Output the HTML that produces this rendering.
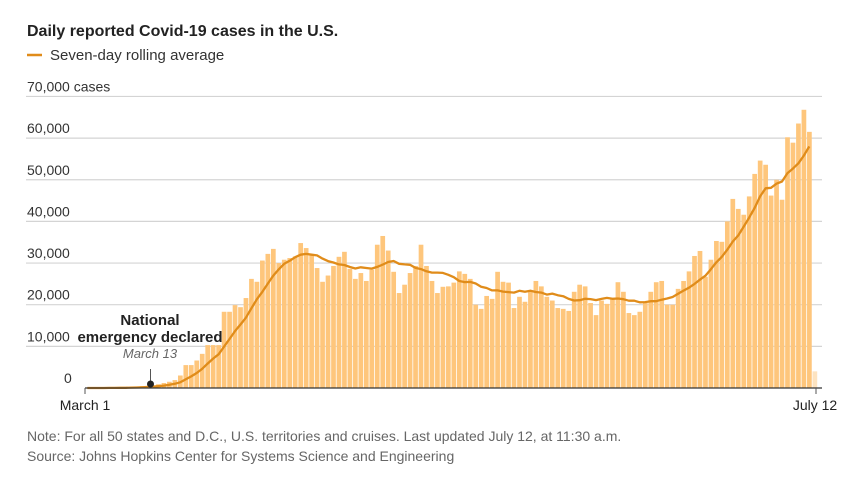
<!DOCTYPE html>
<html><head><meta charset="utf-8"><style>
body{margin:0;background:#fff;width:865px;height:482px;overflow:hidden}
svg{display:block;font-family:"Liberation Sans",sans-serif}
</style></head><body>
<svg id="s" width="865" height="482" xmlns="http://www.w3.org/2000/svg">
<text x="27" y="36" font-size="16" font-weight="bold" fill="#222">Daily reported Covid-19 cases in the U.S.</text>
<line x1="27" y1="55" x2="42" y2="55" stroke="#e08c1a" stroke-width="2.5"/>
<text x="50" y="60" font-size="15" fill="#333">Seven-day rolling average</text>
<g id="grid"></g>
<g id="bars"></g>
<path id="avg" fill="none" stroke="#e08c1a" stroke-width="2.3" stroke-linejoin="round"/>
<line x1="85" y1="388" x2="822" y2="388" stroke="#333" stroke-width="1.2"/>
<line x1="85" y1="388" x2="85" y2="394" stroke="#555"/>
<line x1="816" y1="388" x2="816" y2="394" stroke="#555"/>
<line x1="150.5" y1="369" x2="150.5" y2="384" stroke="#555"/>
<circle cx="150.5" cy="384" r="3.5" fill="#222"/>
<text x="150" y="325" font-size="15" font-weight="bold" fill="#222" text-anchor="middle">National</text>
<text x="150" y="342" font-size="15" font-weight="bold" fill="#222" text-anchor="middle">emergency declared</text>
<text x="150" y="358" font-size="13" font-style="italic" fill="#666" text-anchor="middle">March 13</text>
<text x="85" y="410" font-size="14" fill="#222" text-anchor="middle">March 1</text>
<text x="815" y="410" font-size="14" fill="#222" text-anchor="middle">July 12</text>
<text x="27" y="441" font-size="14" fill="#666">Note: For all 50 states and D.C., U.S. territories and cruises. Last updated July 12, at 11:30 a.m.</text>
<text x="27" y="461" font-size="14" fill="#666">Source: Johns Hopkins Center for Systems Science and Engineering</text>
</svg>
<script>
var v=[0,0,0,0.05,0.05,0.1,0.1,0.1,0.2,0.3,0.4,0.5,0.6,0.9,1.2,
1.5,1.9,3,5.5,5.5,6.6,8.2,10.3,10.3,10.3,18.3,18.3,19.9,19.4,21.6,26.2,25.5,30.6,32.2,33.4,30,30.8,31.2,31.6,34.8,33.6,32,28.8,25.5,27,29.3,31.5,32.7,28.6,26.2,27.6,25.7,28.4,34.4,36.5,33,27.9,22.8,24.8,27.6,29.3,34.4,29.3,25.7,22.8,24.3,
24.4,25.3,28,27.4,26.2,20,19,22.1,21.4,27.9,25.5,25.3,19.2,21.9,20.7,23.1,25.7,24.4,21.9,21,19.2,19,18.5,23.1,24.8,24.4,20.4,17.5,21,20.2,21.6,25.4,23.1,18,17.5,18.3,20.4,23.1,25.4,25.7,20,20,23.8,25.7,28,31.7,32.9,26.7,30.8,35.3,35.1,40,45.4,43,41.6,46,51.4,54.6,53.6,46.2,50,45.2,60.2,58.9,63.5,66.8,61.5,4];
var NS="http://www.w3.org/2000/svg";
function el(t,a,p){var e=document.createElementNS(NS,t);for(var k in a)e.setAttribute(k,a[k]);document.getElementById(p).appendChild(e);return e;}
var Y=function(k){return 388-k*4.165;};
var labs=["0","10,000","20,000","30,000","40,000","50,000","60,000","70,000 cases"];
for(var i=1;i<8;i++){var y=Y(i*10);el("line",{x1:26,y1:y,x2:822,y2:y,stroke:"#d4d4d4","stroke-width":1.2},"grid");
var t=el("text",{x:27,y:y-5,"font-size":14,fill:"#333"},"grid");t.textContent=labs[i];}
var t0=el("text",{x:64,y:383,"font-size":14,fill:"#333"},"grid");t0.textContent="0";
var P=5.47,X0=85;
for(var i=0;i<v.length;i++){var h=v[i]*4.165;el("rect",{x:X0+P*i,y:388-h,width:4.7,height:h,fill:i==133?"#fde3c0":"#fec67c"},"bars");}
var d="";
for(var i=0;i<133;i++){var s=0;for(var j=Math.max(0,i-6);j<=i;j++){s+=v[j];}var a=s/7;
d+=(i?"L":"M")+(X0+P*i+2.3).toFixed(1)+","+Y(a).toFixed(1);}
document.getElementById("avg").setAttribute("d",d);
</script>
</body></html>
